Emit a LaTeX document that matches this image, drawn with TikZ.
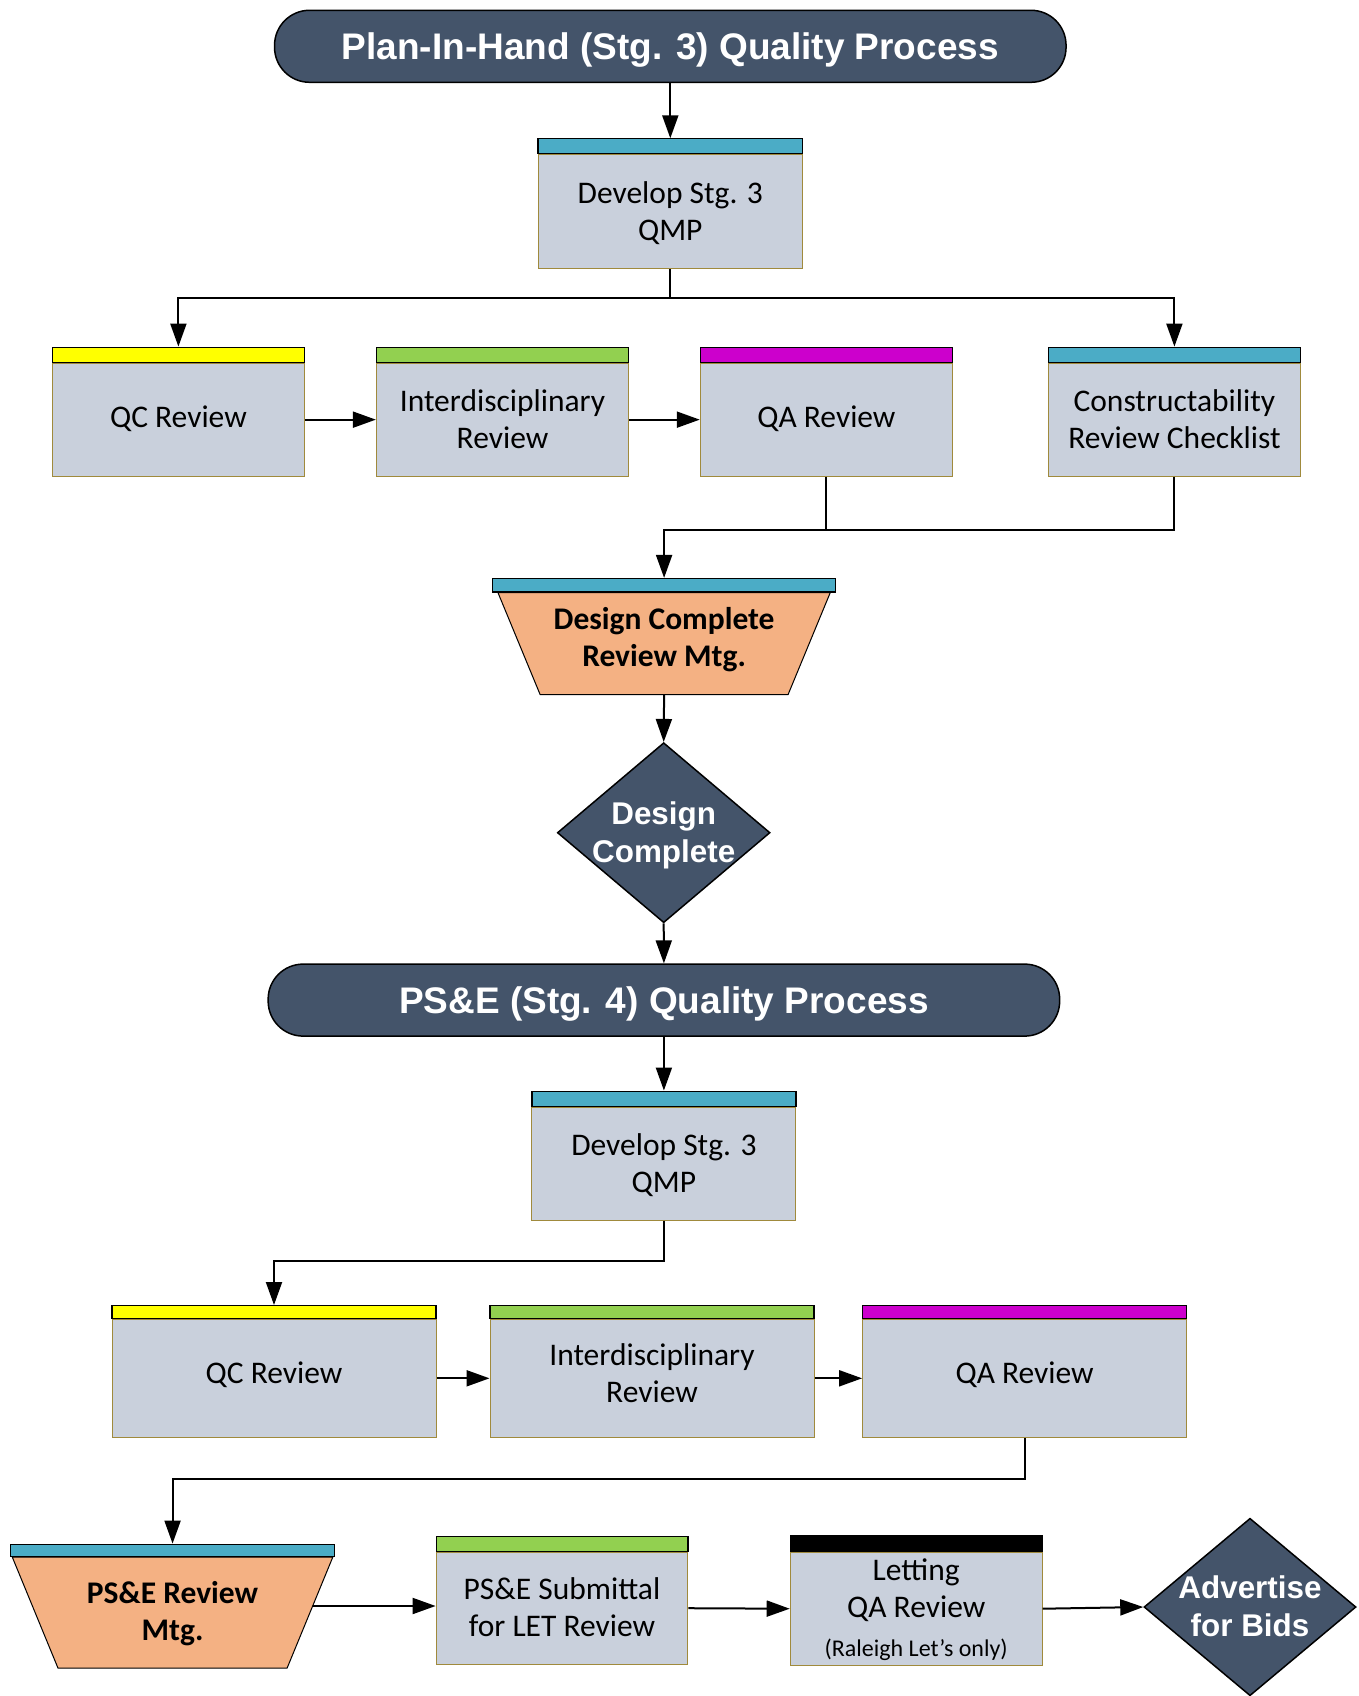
\documentclass[tikz,border=0pt]{standalone}
\usepackage{fontspec}
\setmainfont{Carlito}
\newfontfamily\hv{Liberation Sans}
\usetikzlibrary{arrows.meta,shapes.geometric,calc}
\definecolor{slate}{HTML}{44546A}
\definecolor{bodygray}{HTML}{C9D0DC}
\definecolor{gold}{HTML}{A08A3C}
\definecolor{hteal}{HTML}{4BACC6}
\definecolor{hgreen}{HTML}{92D050}
\definecolor{hmag}{HTML}{CC00CC}
\definecolor{hyellow}{HTML}{FFFF00}
\definecolor{peach}{HTML}{F4B183}
\tikzset{
  conn/.style={line width=2pt, draw=black},
  arr/.style={conn, -{Triangle[length=23pt,width=16pt]}},
  body/.style={rectangle, fill=bodygray, draw=gold, line width=1pt, inner sep=0pt},
  boxtext/.style={align=center, inner sep=0pt, font=\fontsize{31.5}{37}\selectfont},
  hdr/.style={rectangle, draw=black, line width=1.2pt, inner sep=0pt, anchor=south},
  titlebox/.style={rectangle, rounded corners=35pt, fill=slate, draw=black, line width=1.5pt, text=white, inner sep=0pt, text height=26.5pt, text depth=0pt, font=\hv\bfseries\fontsize{37}{44}\selectfont},
  dia/.style={diamond, fill=slate, draw=black, line width=1.5pt, inner sep=0pt},
  diatext/.style={text=white, align=center, inner sep=0pt, font=\hv\bfseries\fontsize{31.4}{38}\selectfont},
  frame/.style={rectangle, draw=none, inner sep=0pt},
  trapfill/.style={fill=peach, draw=black, line width=1pt},
  traptext/.style={align=center, inner sep=0pt, font=\bfseries\fontsize{31.5}{37}\selectfont},
}
% name, x, y, width, body height, header height, header colour, text, text y
\newcommand\flowbox[9]{%
  \node[body, minimum width=#4pt, minimum height=#5pt] (#1) at (#2,#3) {};
  \node[boxtext] (#1t) at (#2,#9) {#8};
  \node[hdr, fill=#7, minimum width=#4pt, minimum height=#6pt] (#1h) at (#1.north) {};
}
\begin{document}
\begin{tikzpicture}[x=1pt,y=-1pt]
\useasboundingbox (0,0) rectangle (1358,1696);
\fill[white] (0,0) rectangle (1358,1696);

% ---- Stage 3 ----
\node[titlebox, minimum width=791.5pt, minimum height=72pt] (t1) at (670.3,46.3) {Plan-In-Hand (Stg. 3) Quality Process};
\flowbox{dev1}{670.3}{211.65}{264.6}{113.3}{15}{hteal}{Develop Stg. 3\\QMP}{212.7}
\flowbox{qc1}{178.4}{419.65}{252.3}{112.7}{15}{hyellow}{QC Review}{419.2}
\flowbox{int1}{502.5}{419.65}{252.3}{112.7}{15}{hgreen}{Interdisciplinary\\Review}{419.2}
\flowbox{qa1}{826.4}{419.65}{252.3}{112.7}{15}{hmag}{QA Review}{419.2}
\flowbox{con1}{1174.4}{419.65}{252.3}{112.7}{15}{hteal}{Constructability\\Review Checklist}{419.2}

\node[frame, minimum width=332pt, minimum height=101.6pt] (dcm) at (664.1,643.5) {};
\draw[trapfill] (dcm.north west) -- (dcm.north east) -- ([xshift=-42.2pt]dcm.south east) -- ([xshift=42.2pt]dcm.south west) -- cycle;
\node[traptext] (dcmt) at (664.1,639.8) {Design Complete\\Review Mtg.};
\node[hdr, fill=hteal, minimum width=343pt, minimum height=13.4pt] (dcmh) at (dcm.north) {};

\node[dia, minimum width=212.7pt, minimum height=180pt] (dc) at (663.7,832.7) {};
\node[diatext] (dct) at (663.7,835.2) {Design\\Complete};

% ---- Stage 4 ----
\node[titlebox, minimum width=791.5pt, minimum height=72pt] (t2) at (663.9,1000.1) {PS\&E (Stg. 4) Quality Process};
\flowbox{dev2}{663.9}{1163.6}{264}{112.8}{15}{hteal}{Develop Stg. 3\\QMP}{1165.2}
\flowbox{qc2}{274}{1378.3}{324}{118}{12.6}{hyellow}{QC Review}{1374.5}
\flowbox{int2}{652}{1378.3}{324}{118}{12.6}{hgreen}{Interdisciplinary\\Review}{1373}
\flowbox{qa2}{1024.6}{1378.3}{324}{118}{12.6}{hmag}{QA Review}{1374.5}

\node[frame, minimum width=320.1pt, minimum height=110.7pt] (psm) at (172.55,1612.65) {};
\draw[trapfill] (psm.north west) -- (psm.north east) -- ([xshift=-45.75pt]psm.south east) -- ([xshift=45.75pt]psm.south west) -- cycle;
\node[traptext] (psmt) at (172.55,1613.8) {PS\&E Review\\Mtg.};
\node[hdr, fill=hteal, minimum width=324pt, minimum height=12.3pt] (psmh) at (psm.north) {};

\flowbox{sub}{562}{1608.2}{251.8}{111.7}{15}{hgreen}{PS\&E Submittal\\for LET Review}{1606.8}
\flowbox{let}{916.2}{1608.7}{252}{112.7}{16}{black}{Letting\\QA Review\\[2pt]{\fontsize{24}{28}\selectfont (Raleigh Let’s only)}}{1609.5}

\node[dia, minimum width=212pt, minimum height=177.5pt] (adv) at (1250,1607) {};
\node[diatext] (advt) at (1250,1606) {Advertise\\for Bids};

% ---- connectors ----
\draw[arr] (t1.south) -- (dev1h.north);
\coordinate (j1) at (670.3,298.4);
\draw[conn] (dev1.south) -- (j1);
\draw[arr] (j1) -| (qc1h.north);
\draw[arr] (j1) -| (con1h.north);
\draw[arr] (qc1.east) -- (int1.west);
\draw[arr] (int1.east) -- (qa1.west);
\coordinate (j2) at (664.1,529.8);
\draw[arr] (qa1.south) |- (j2) -- (dcmh.north);
\draw[conn] (con1.south) |- (qa1.south |- j2);
\draw[arr] (dcm.south) -- (dc.north);
\draw[arr] (dc.south) -- (t2.north);
\draw[arr] (t2.south) -- (dev2h.north);
\coordinate (j3) at (663.9,1261);
\draw[arr] (dev2.south) -- (j3) -| (qc2h.north);
\draw[arr] (qc2.east) -- (int2.west);
\draw[arr] (int2.east) -- (qa2.west);
\coordinate (j4) at (1024.6,1479);
\draw[arr] (qa2.south) -- (j4) -| (psmh.north);
\coordinate (psmr) at ($(psm.north east)!0.44!([xshift=-45.75pt]psm.south east)$);
\draw[arr] (psmr) -- (psmr -| sub.west);
\draw[arr] (sub.east) -- (let.west);
\draw[arr] (let.east) -- (adv.west);
\end{tikzpicture}
\end{document}
